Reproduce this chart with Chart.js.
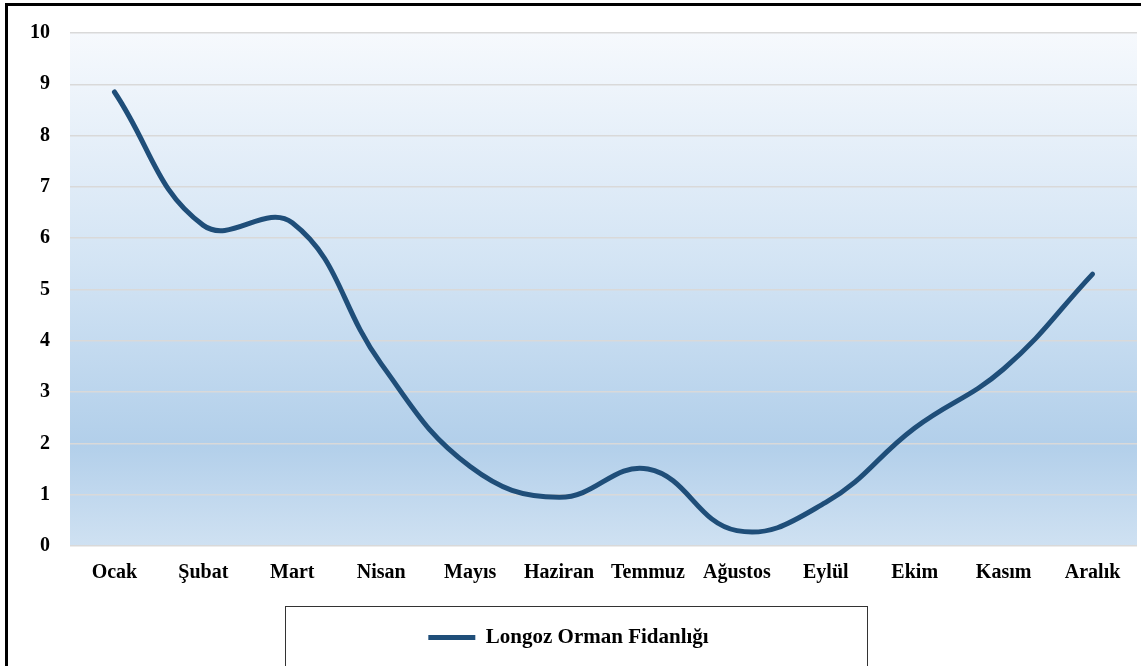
<!DOCTYPE html>
<html lang="tr">
<head>
<meta charset="utf-8">
<title>Longoz Orman Fidanlığı</title>
<script src="https://cdn.jsdelivr.net/npm/chart.js@4/dist/chart.umd.min.js"></script>
<style>
    html, body { margin: 0; padding: 0; background: #fff; }
    #wrap { position: relative; width: 1141px; height: 666px; }
</style>
</head>
<body>
<div id="wrap"><canvas id="chart"></canvas></div>
<script>
// Monthly values for the nursery, one per month.
const months = ['Ocak', 'Şubat', 'Mart', 'Nisan', 'Mayıs', 'Haziran', 'Temmuz', 'Ağustos', 'Eylül', 'Ekim', 'Kasım', 'Aralık'];
const longozValues = [8.85, 6.25, 6.3, 3.55, 1.55, 0.95, 1.5, 0.3, 0.85, 2.3, 3.45, 5.3];
const yTicks = [0, 1, 2, 3, 4, 5, 6, 7, 8, 9, 10];
const seriesName = 'Longoz Orman Fidanlığı';

const LINE = '#1f4e79';
const FONT = '"Liberation Serif", "Times New Roman", serif';

// plot background gradient + outer frame + legend frame
const decor = {
    id: 'decor',
    beforeDraw(chart) {
        const { ctx, chartArea: a } = chart;
        ctx.save();
        ctx.fillStyle = '#fff';
        ctx.fillRect(0, 0, chart.width, chart.height);
        const g = ctx.createLinearGradient(0, a.top, 0, a.bottom);
        g.addColorStop(0, '#f6f9fd');
        g.addColorStop(0.45, '#d3e4f4');
        g.addColorStop(0.8, '#b2cfea');
        g.addColorStop(1, '#cfe1f2');
        ctx.fillStyle = g;
        ctx.fillRect(a.left, a.top, a.right - a.left, a.bottom - a.top);
        ctx.restore();
    },
    afterDraw(chart) {
        const { ctx, legend } = chart;
        ctx.save();
        ctx.strokeStyle = '#000';
        ctx.lineWidth = 3;
        ctx.strokeRect(6.5, 4.5, chart.width + 20, chart.height + 20);
        ctx.lineWidth = 1;
        ctx.strokeStyle = '#333';
        ctx.strokeRect(285.5, legend.top - 2.5, 582, 200);
        ctx.restore();
    },
};

new Chart(document.getElementById('chart'), {
    type: 'line',
    data: {
        labels: months,
        datasets: [
            {
                label: seriesName,
                data: longozValues,
                borderColor: LINE,
                backgroundColor: LINE,
                borderWidth: 5,
                borderCapStyle: 'round',
                tension: 0.42,
                pointRadius: 0,
                fill: false,
            },
        ],
    },
    options: {
        responsive: true,
        maintainAspectRatio: false,
        animation: false,
        layout: { padding: { top: 33, right: 4, bottom: 8, left: 0 } },
        plugins: {
            tooltip: { enabled: false },
            legend: {
                position: 'bottom',
                labels: {
                    color: '#000',
                    font: { family: FONT, size: 21, weight: 'bold' },
                    boxWidth: 47,
                    boxHeight: 5,
                    padding: 18,
                    generateLabels: (chart) =>
                        chart.data.datasets.map((ds, i) => ({
                            text: ds.label,
                            fillStyle: ds.borderColor,
                            strokeStyle: ds.borderColor,
                            lineWidth: 0,
                            fontColor: '#000',
                            datasetIndex: i,
                        })),
                },
            },
        },
        scales: {
            x: {
                offset: true,
                grid: { display: false },
                border: { display: false },
                ticks: {
                    color: '#000',
                    font: { family: FONT, size: 20, weight: 'bold' },
                    padding: 7,
                    maxRotation: 0,
                    autoSkip: false,
                },
                afterFit: (scale) => { scale.height = 63; },
            },
            y: {
                min: 0,
                max: 10,
                afterBuildTicks: (scale) => { scale.ticks = yTicks.map((v) => ({ value: v })); },
                grid: { color: '#d9d9d9', lineWidth: 1.5, drawTicks: false },
                border: { display: false },
                ticks: {
                    color: '#000',
                    font: { family: FONT, size: 20, weight: 'bold' },
                    padding: 20,
                },
                afterFit: (scale) => { scale.width = 70; },
            },
        },
    },
    plugins: [decor],
});
</script>
</body>
</html>
